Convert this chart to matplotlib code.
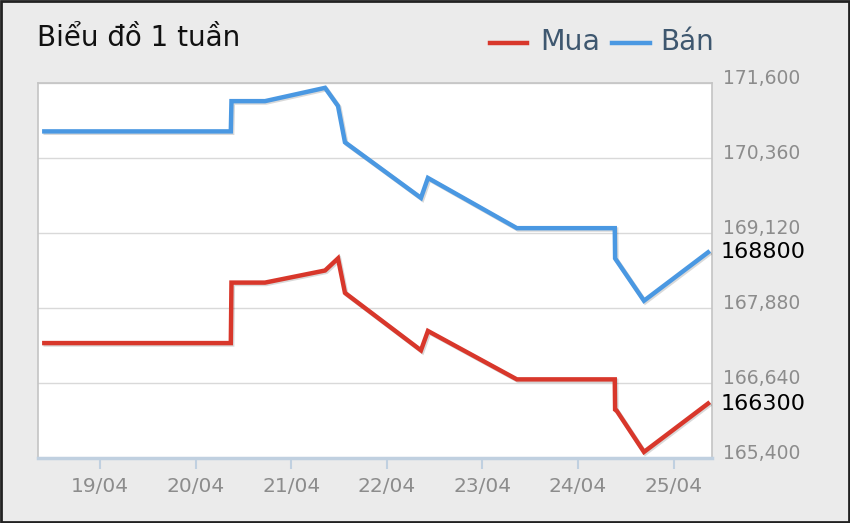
import numpy as np
import pandas as pd
import matplotlib
matplotlib.use("Agg")
from matplotlib import pyplot as plt
import matplotlib.dates as mdates
import matplotlib.transforms as mtransforms
import matplotlib.patheffects as pe
from matplotlib.patches import Rectangle

# ---------------------------------------------------------------------------
# Data
# ---------------------------------------------------------------------------
times = pd.to_datetime([
    "2024-04-18 10:00", "2024-04-20 08:50", "2024-04-20 09:00", "2024-04-20 17:25",
    "2024-04-21 08:30", "2024-04-21 11:45", "2024-04-21 13:30", "2024-04-22 08:35",
    "2024-04-22 10:20", "2024-04-23 08:40", "2024-04-24 09:15", "2024-04-24 09:20",
    "2024-04-24 09:45", "2024-04-24 16:35", "2024-04-25 08:40",
])
mua = [167300, 167300, 168300, 168300, 168500, 168700, 168130, 167180,
       167500, 166700, 166700, 166200, 166180, 165500, 166300]
ban = [170800, 170800, 171300, 171300, 171520, 171220, 170620, 169700,
       170030, 169200, 169200, 168700, 168660, 168000, 168800]

y_ticks = [165400, 166640, 167880, 169120, 170360, 171600]
x_ticks = pd.to_datetime(["2024-04-19", "2024-04-20", "2024-04-21", "2024-04-22",
                          "2024-04-23", "2024-04-24", "2024-04-25"])

title = "Biểu đồ 1 tuần"
series_names = ["Mua", "Bán"]

RED = "#d8372b"
BLUE = "#4a98e2"
BG = "#ebebeb"

# ---------------------------------------------------------------------------
# Figure
# ---------------------------------------------------------------------------
fig = plt.figure(figsize=(8.5, 5.23), dpi=100, facecolor=BG)
ax = fig.add_axes([38 / 850, 1 - 458 / 523, (712 - 38) / 850, (458 - 83) / 523])
ax.set_facecolor("white")

shadow = [pe.SimpleLineShadow(offset=(1, -1), alpha=0.15, shadow_color="black"), pe.Normal()]
ax.plot(times, mua, color=RED, lw=3.2, solid_joinstyle="miter", path_effects=shadow, zorder=3)
ax.plot(times, ban, color=BLUE, lw=3.2, solid_joinstyle="miter", path_effects=shadow, zorder=3)

ax.set_ylim(y_ticks[0], y_ticks[-1])
ax.set_xlim(pd.Timestamp("2024-04-18 08:25"), pd.Timestamp("2024-04-25 09:40"))

# y axis on the right
ax.yaxis.tick_right()
ax.set_yticks(y_ticks)
ax.set_yticklabels([f"{v:,}" for v in y_ticks], color="#8c8c8c", fontsize=13.5)
ax.tick_params(axis="y", length=0, pad=8)
offset = mtransforms.ScaledTranslation(0, 6 / 100, fig.dpi_scale_trans)
for lbl in ax.get_yticklabels():
    lbl.set_transform(lbl.get_transform() + offset)
ax.grid(axis="y", color="#d9d9d9", lw=1)
ax.set_axisbelow(True)

# x axis
ax.set_xticks(x_ticks)
ax.xaxis.set_major_formatter(mdates.DateFormatter("%d/%m"))
ax.tick_params(axis="x", length=8, width=1.5, color="#c0d0e0", pad=6,
               labelcolor="#8c8c8c", labelsize=14.5)

for side in ["left", "top", "right"]:
    ax.spines[side].set_color("#c4c4c4")
    ax.spines[side].set_linewidth(1.2)
ax.spines["bottom"].set_color("#c0d0e0")
ax.spines["bottom"].set_linewidth(2.5)

# last value labels
trans = mtransforms.blended_transform_factory(ax.transAxes, ax.transData)
ax.text(1.012, ban[-1], f"{ban[-1]}", transform=trans, ha="left", va="center",
        fontsize=16, color="black", clip_on=False)
ax.text(1.012, mua[-1], f"{mua[-1]}", transform=trans, ha="left", va="center",
        fontsize=16, color="black", clip_on=False)

# title and legend
fig.text(37 / 850, 1 - 38 / 523, title, fontsize=20, color="#111111", ha="left", va="center")
fig.add_artist(plt.Line2D([490 / 850, 527 / 850], [1 - 43 / 523] * 2, color=RED, lw=3.2))
fig.text(540 / 850, 1 - 42 / 523, series_names[0], fontsize=20.5, color="#3e576f", ha="left", va="center")
fig.add_artist(plt.Line2D([612 / 850, 650 / 850], [1 - 43 / 523] * 2, color=BLUE, lw=3.2))
fig.text(660 / 850, 1 - 42 / 523, series_names[1], fontsize=20, color="#3e576f", ha="left", va="center")

# outer frame
fig.add_artist(Rectangle((0.001, 0.002), 0.998, 0.996, transform=fig.transFigure,
                         fill=False, edgecolor="#222222", lw=2))

fig.savefig("out.png", dpi=100, facecolor=BG)
